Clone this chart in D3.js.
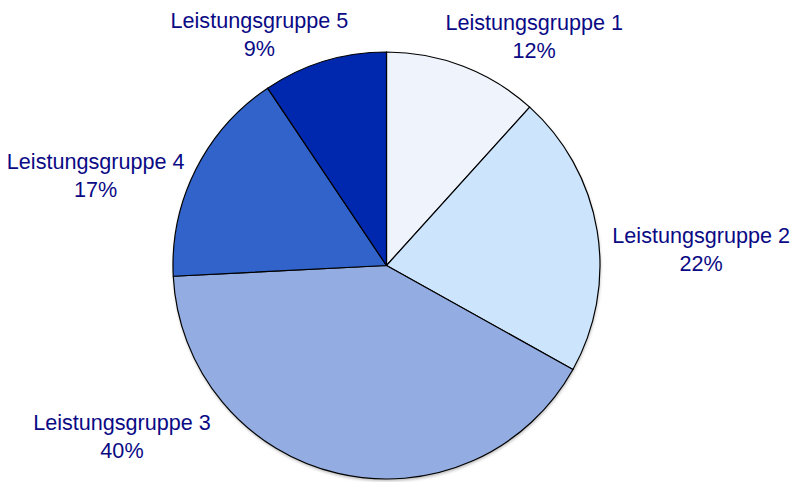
<!DOCTYPE html>
<html>
<head>
<meta charset="utf-8">
<script src="https://cdn.jsdelivr.net/npm/d3@7"></script>
<style>
  html, body { margin: 0; padding: 0; background: #ffffff; }
  svg { display: block; }
</style>
</head>
<body>
<svg id="chart" width="792" height="482"></svg>
<script>
// Data
const categories = ["Leistungsgruppe 1", "Leistungsgruppe 2", "Leistungsgruppe 3", "Leistungsgruppe 4", "Leistungsgruppe 5"];
const values = [11.7, 21.4, 41.1, 16.4, 9.4];
const percentLabels = ["12%", "22%", "40%", "17%", "9%"];
const colors = ["#EEF3FC", "#CCE4FC", "#93ADE3", "#3163CA", "#0028AF"];

const svg = d3.select("#chart");
const cx = 386.5, cy = 265.5, r = 213.5;

const defs = svg.append("defs");
const f = defs.append("filter").attr("id", "shadow").attr("x", "-10%").attr("y", "-10%").attr("width", "120%").attr("height", "120%");
f.append("feGaussianBlur").attr("stdDeviation", 1.5);

const pie = d3.pie().sort(null).value(d => d);
const arcs = pie(values);
const arc = d3.arc().innerRadius(0).outerRadius(r);
const rimArc = d3.arc().innerRadius(r).outerRadius(r);

const g = svg.append("g").attr("transform", `translate(${cx},${cy})`);

g.append("circle")
  .attr("cx", 0.5).attr("cy", 2).attr("r", r)
  .attr("fill", "#888").attr("opacity", 0.6)
  .attr("filter", "url(#shadow)");

g.selectAll("path.slice")
  .data(arcs)
  .enter().append("path")
  .attr("class", "slice")
  .attr("d", arc)
  .attr("fill", (d, i) => colors[i])
  .attr("stroke", "#000")
  .attr("stroke-width", 1.2)
  .attr("stroke-linejoin", "round");

// Label layout: offset of each label block from the rim point at the slice's mid-angle
const labelOffset = [[71, -30], [104, 19], [-216, -37], [-100, 6], [-65, -27]];
const labelG = g.append("g");
arcs.forEach((d, i) => {
  const [px, py] = rimArc.centroid(d);
  const x = px + labelOffset[i][0];
  const y = py + labelOffset[i][1];
  const t = labelG.append("text")
    .attr("text-anchor", "middle")
    .attr("font-family", "Liberation Sans, Arial, sans-serif")
    .attr("font-size", 21.6)
    .attr("fill", "#0A0A85");
  t.append("tspan").attr("x", x).attr("y", y - 6.5).text(categories[i]);
  t.append("tspan").attr("x", x).attr("y", y + 21.5).text(percentLabels[i]);
});
</script>
</body>
</html>
